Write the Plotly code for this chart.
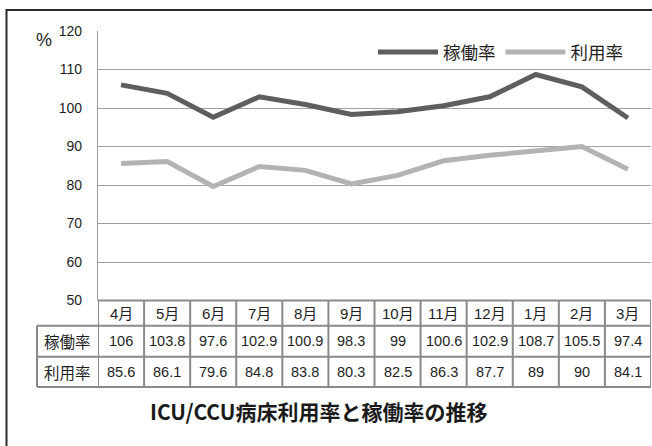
import plotly.graph_objects as go

months = ["4月", "5月", "6月", "7月", "8月", "9月", "10月", "11月", "12月", "1月", "2月", "3月"]
kadou = [106, 103.8, 97.6, 102.9, 100.9, 98.3, 99, 100.6, 102.9, 108.7, 105.5, 97.4]
riyou = [85.6, 86.1, 79.6, 84.8, 83.8, 80.3, 82.5, 86.3, 87.7, 89, 90, 84.1]
series_names = ["稼働率", "利用率"]
y_ticks = [50, 60, 70, 80, 90, 100, 110, 120]
title_text = "ICU/CCU病床利用率と稼働率の推移"
unit_text = "%"

W, H = 652, 446
FONT = "Liberation Sans, Noto Sans CJK JP, sans-serif"
CJK = "Noto Sans CJK JP, sans-serif"


def px(x):
    return x / W


def py(y):
    return 1 - y / H


fig = go.Figure()
fig.add_trace(go.Scatter(x=months, y=kadou, mode="lines", name=series_names[0],
                         line=dict(color="#5e5e5e", width=5)))
fig.add_trace(go.Scatter(x=months, y=riyou, mode="lines", name=series_names[1],
                         line=dict(color="#b3b3b3", width=5)))

grid_c = "#a0a0a0"
tab_c = "#8a8a8a"
shapes = []
# outer frame
shapes.append(dict(type="rect", xref="paper", yref="paper", x0=px(6.5), x1=px(660),
                   y0=py(10), y1=py(460), line=dict(color="#2a2a2a", width=2)))
# table horizontal lines
row_y = [300.5, 325.7, 356.7, 387]
for i, yy in enumerate(row_y):
    x0 = 98 if i == 0 else 37
    shapes.append(dict(type="line", xref="paper", yref="paper", x0=px(x0), x1=px(651),
                       y0=py(yy), y1=py(yy), line=dict(color=tab_c, width=2)))
# table vertical lines (column borders via x scale)
for i in range(len(months) + 1):
    shapes.append(dict(type="line", xref="x", yref="paper", x0=i - 0.5, x1=i - 0.5,
                       y0=py(300.5), y1=py(387), line=dict(color=tab_c, width=2)))
shapes.append(dict(type="line", xref="paper", yref="paper", x0=px(37), x1=px(37),
                   y0=py(325.7), y1=py(387), line=dict(color=tab_c, width=2)))

ann = []
row_c = [313, 341, 372]
C = dict(xanchor="center", yanchor="middle", showarrow=False)
for i, m in enumerate(months):
    ann.append(dict(x=m, xref="x", y=py(row_c[0]), yref="paper", text=m,
                    font=dict(size=15, color="#1e1e1e", family=FONT), **C))
    ann.append(dict(x=m, xref="x", y=py(row_c[1]), yref="paper", text=str(kadou[i]),
                    font=dict(size=14.5, color="#1e1e1e", family=FONT), **C))
    ann.append(dict(x=m, xref="x", y=py(row_c[2]), yref="paper", text=str(riyou[i]),
                    font=dict(size=14.5, color="#1e1e1e", family=FONT), **C))
for j, name in enumerate(series_names):
    ann.append(dict(x=px(67.5), xref="paper", y=py(row_c[j + 1]), yref="paper", text=name,
                    font=dict(size=15.5, color="#1e1e1e", family=CJK), **C))
ann.append(dict(x=px(318), xref="paper", y=py(411), yref="paper", text="<b>" + title_text + "</b>",
                font=dict(size=21, color="#1a1a1a", family=CJK), **C))
ann.append(dict(x=px(43.5), xref="paper", y=py(40), yref="paper", text=unit_text,
                font=dict(size=18, color="#1e1e1e", family=FONT), **C))

fig.update_layout(
    width=W, height=H, margin=dict(l=0, r=0, t=0, b=0, pad=0, autoexpand=False),
    autosize=False,
    paper_bgcolor="white", plot_bgcolor="white",
    font=dict(family=FONT, color="#222"),
    xaxis=dict(domain=[px(98), px(651)], range=[-0.5, 11.5], type="category", automargin=False,
               showticklabels=False, showgrid=False, zeroline=False, showline=False, ticks=""),
    yaxis=dict(domain=[py(300.5), py(31)], range=[50, 120], tickvals=y_ticks, automargin=False,
               showgrid=True, gridcolor=grid_c, gridwidth=1.4, zeroline=False,
               showline=True, linecolor=grid_c, linewidth=1.4, ticks="",
               ticklabelstandoff=12, tickfont=dict(size=14, color="#1e1e1e", family=FONT)),
    showlegend=True,
    legend=dict(orientation="h", x=px(373), xanchor="left", y=py(52), yanchor="middle",
                itemwidth=60, font=dict(size=17.5, color="#1e1e1e", family=CJK),
                bgcolor="rgba(0,0,0,0)", tracegroupgap=0),
    shapes=shapes, annotations=ann,
)

fig.write_html("out.html", config={"responsive": False, "displayModeBar": False},
               post_script="document.body.style.margin='0';document.documentElement.style.overflow='hidden';")
